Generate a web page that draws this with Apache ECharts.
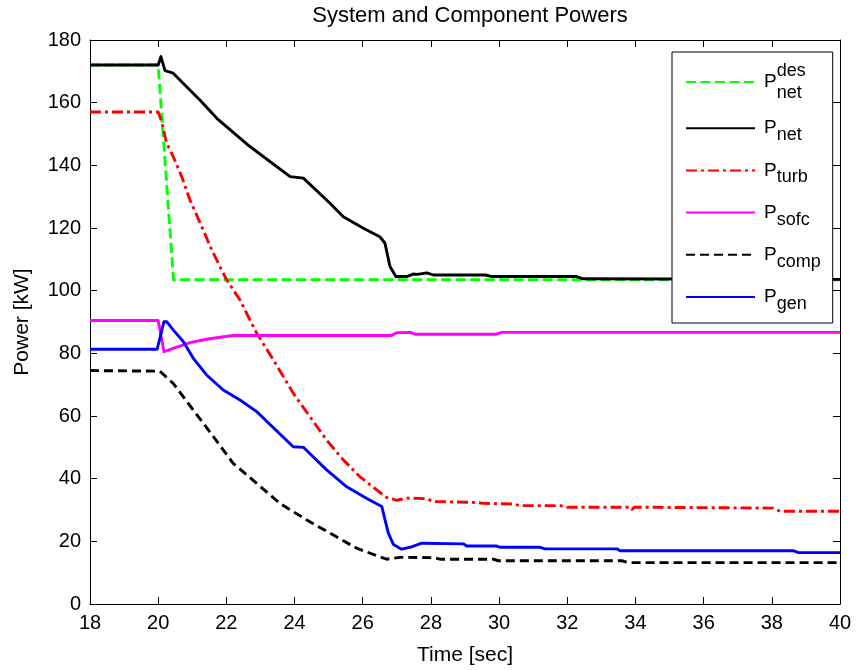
<!DOCTYPE html>
<html>
<head>
<meta charset="utf-8">
<script src="https://cdn.jsdelivr.net/npm/echarts@6/dist/echarts.min.js"></script>
<style>
  html, body { margin: 0; padding: 0; background: #fff; }
  #chart { width: 858px; height: 670px; }
</style>
</head>
<body>
<div id="chart"></div>
<script>
// Axis ranges and tick spacing
const timeRange = [18, 40];
const timeStep = 2;
const powerRange = [0, 180];
const powerStep = 20;

// Demanded net power (kW) versus time (s)
const netDesTime  = [18, 20.0, 20.45, 40];
const netDesPower = [172, 172, 103.5, 103.5];

// Net system power
const netTime  = [18, 20.0, 20.08, 20.2, 20.44, 21.23, 21.72, 22.69, 23.87, 24.26, 25.04, 25.43, 26.02, 26.5, 26.65, 26.8, 26.97, 27.29, 27.48, 27.6, 27.88, 28.07, 29.6, 29.8, 32.27, 32.47, 40];
const netPower = [172, 172, 174.7, 170.2, 169.4, 160.8, 155.0, 146.0, 136.4, 135.9, 127.9, 123.6, 119.9, 117.2, 115.2, 107.7, 104.5, 104.5, 105.3, 105.2, 105.7, 105.0, 105.0, 104.5, 104.5, 103.8, 103.6];

// Turbine power
const turbTime  = [18, 20.0, 20.1, 20.25, 20.44, 20.69, 20.93, 21.32, 21.57, 22.01, 22.4, 22.89, 23.38, 23.96, 24.45, 24.94, 25.43, 25.92, 26.41, 26.7, 27.0, 27.29, 27.88, 28.07, 29.34, 29.54, 30.42, 30.61, 31.79, 31.98, 33.85, 33.9, 33.97, 38.04, 38.24, 40];
const turbPower = [157, 157, 154.0, 147.0, 142.8, 136.4, 129.0, 119.4, 113.0, 103.4, 97.0, 86.4, 77.9, 67.3, 59.8, 52.3, 46.0, 40.6, 36.4, 34.0, 33.1, 33.8, 33.6, 32.7, 32.4, 32.1, 31.9, 31.4, 31.4, 30.9, 30.9, 30.2, 30.9, 30.6, 29.6, 29.6];

// Fuel cell stack power
const sofcTime  = [18, 20.0, 20.17, 20.44, 20.93, 21.42, 21.91, 22.2, 26.85, 27.0, 27.39, 27.53, 29.93, 30.08, 40];
const sofcPower = [90.5, 90.5, 80.5, 81.6, 83.4, 84.5, 85.3, 85.7, 85.7, 86.6, 86.7, 86.1, 86.1, 86.7, 86.7];

// Compressor power
const compTime  = [18, 20.05, 20.44, 21.03, 21.62, 22.2, 22.89, 23.57, 24.36, 25.14, 25.82, 26.5, 26.7, 27.09, 28.07, 28.27, 29.83, 29.98, 33.6, 33.8, 40];
const compPower = [74.5, 74.3, 70.4, 61.9, 53.4, 44.9, 38.5, 32.1, 26.8, 22.0, 17.8, 15.1, 14.3, 14.9, 14.8, 14.3, 14.3, 13.8, 13.8, 13.2, 13.2];

// Generator power
const genTime  = [18, 19.97, 20.17, 20.25, 20.44, 20.74, 21.03, 21.42, 21.91, 22.4, 22.89, 23.96, 24.26, 24.94, 25.53, 26.12, 26.56, 26.75, 26.9, 27.14, 27.39, 27.73, 28.95, 29.05, 29.93, 30.03, 31.2, 31.35, 33.45, 33.55, 38.63, 38.78, 40];
const genPower = [81.3, 81.3, 90.1, 90.1, 87.5, 83.7, 78.4, 73.1, 68.3, 65.1, 61.4, 50.2, 50.0, 42.8, 37.4, 33.7, 31.1, 22.6, 19.0, 17.5, 18.1, 19.4, 19.2, 18.5, 18.5, 18.1, 18.1, 17.6, 17.6, 17.0, 17.0, 16.4, 16.4];

// Legend labels (rich text: P with subscript, des superscript)
const legendLabels = {
  'P_net_des': '{p1|P}{sup|des}{sub1|net}',
  'P_net':     '{p|P}{sub|net}',
  'P_turb':    '{p|P}{sub|turb}',
  'P_sofc':    '{p|P}{sub|sofc}',
  'P_comp':    '{p|P}{sub|comp}',
  'P_gen':     '{p|P}{sub|gen}'
};

function pairs(t, v) { return t.map((x, i) => [x, v[i]]); }

const FONT = "'Liberation Sans', Arial, Helvetica, sans-serif";

function lineSeries(name, t, v, color, dash) {
  return {
    name: name,
    type: 'line',
    data: pairs(t, v),
    symbol: 'none',
    animation: false,
    silent: true,
    lineStyle: { color: color, width: 2.9, type: dash || 'solid', cap: 'butt', join: 'round' },
    itemStyle: { color: color }
  };
}

const axisCommon = {
  axisLine: { show: true, onZero: false, lineStyle: { color: '#000', width: 1 } },
  axisTick: { show: true, inside: true, length: 7, lineStyle: { color: '#000', width: 1 } },
  splitLine: { show: false }
};

const chart = echarts.init(document.getElementById('chart'), null, { renderer: 'canvas' });
chart.setOption({
  backgroundColor: '#fff',
  animation: false,
  textStyle: { fontFamily: FONT, color: '#000' },
  title: {
    text: 'System and Component Powers',
    left: 465, top: 0, textAlign: 'center',
    textStyle: { fontFamily: FONT, fontSize: 22, fontWeight: 'normal', color: '#000' }
  },
  grid: { left: 90, right: 18, top: 40, bottom: 66, containLabel: false, outerBoundsMode: 'none' },
  xAxis: [
    Object.assign({}, axisCommon, {
      type: 'value', min: timeRange[0], max: timeRange[1], interval: timeStep, position: 'bottom',
      name: 'Time [sec]', nameLocation: 'middle', nameGap: 41,
      nameTextStyle: { fontFamily: FONT, fontSize: 21, color: '#000' },
      axisLabel: { fontFamily: FONT, fontSize: 20, color: '#000', margin: 9 }
    }),
    Object.assign({}, axisCommon, {
      type: 'value', min: timeRange[0], max: timeRange[1], interval: timeStep, position: 'top',
      axisLabel: { show: false }
    })
  ],
  yAxis: [
    Object.assign({}, axisCommon, {
      type: 'value', min: powerRange[0], max: powerRange[1], interval: powerStep, position: 'left',
      name: 'Power [kW]', nameLocation: 'middle', nameGap: 57,
      nameTextStyle: { fontFamily: FONT, fontSize: 21, color: '#000' },
      axisLabel: { fontFamily: FONT, fontSize: 20, color: '#000', margin: 9 }
    }),
    Object.assign({}, axisCommon, {
      type: 'value', min: powerRange[0], max: powerRange[1], interval: powerStep, position: 'right',
      axisLabel: { show: false }
    })
  ],
  legend: {
    orient: 'vertical',
    left: 672, top: 52,
    padding: [10, 12, 10, 13],
    itemGap: 16.7,
    itemWidth: 69,
    itemHeight: 14,
    selectedMode: false,
    backgroundColor: '#fff',
    borderColor: '#000',
    borderWidth: 1,
    borderRadius: 0,
    itemStyle: { opacity: 0, borderWidth: 0 },
    data: ['P_net_des', 'P_net', 'P_turb', 'P_sofc', 'P_comp', 'P_gen'],
    formatter: name => legendLabels[name],
    textStyle: {
      fontFamily: FONT, color: '#000',
      rich: {
        p:    { fontFamily: FONT, fontSize: 19, lineHeight: 32, padding: [0, 0, 0, 4], color: '#000' },
        sub:  { fontFamily: FONT, fontSize: 18, lineHeight: 16, verticalAlign: 'bottom', color: '#000' },
        p1:   { fontFamily: FONT, fontSize: 19, lineHeight: 40, padding: [0, 0, 0, 4], color: '#000' },
        sup:  { fontFamily: FONT, fontSize: 18, lineHeight: 16, verticalAlign: 'top', width: 0, align: 'left', color: '#000' },
        sub1: { fontFamily: FONT, fontSize: 18, lineHeight: 16, verticalAlign: 'bottom', color: '#000' }
      }
    }
  },
  series: [
    lineSeries('P_net_des', netDesTime, netDesPower, '#00ff00', [10, 4.5]),
    lineSeries('P_net', netTime, netPower, '#000000'),
    lineSeries('P_turb', turbTime, turbPower, '#ff0000', [11, 4, 3, 4]),
    lineSeries('P_sofc', sofcTime, sofcPower, '#ff00ff'),
    lineSeries('P_comp', compTime, compPower, '#000000', [9, 5]),
    lineSeries('P_gen', genTime, genPower, '#0000ff')
  ]
});
</script>
</body>
</html>
